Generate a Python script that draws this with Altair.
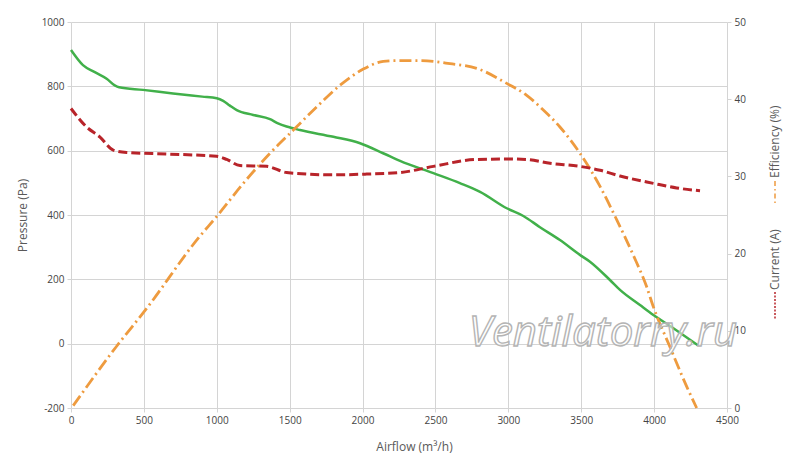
import altair as alt
import pandas as pd

# Pressure curve (Pa)
p_x = [0, 82, 160, 247, 300, 330, 494, 700, 900, 1000, 1044, 1090, 1137, 1250, 1365, 1420, 1479, 1571, 1800, 1983, 2141, 2257, 2486, 2668, 2806, 2989, 3103, 3217, 3354, 3491, 3560, 3697, 3766, 3903, 3995, 4132, 4300]
p_y = [913, 866, 845, 823, 803, 797, 789, 778, 768, 763, 755, 740, 726, 711, 698, 685, 675, 664, 643, 623, 592, 568, 530, 499, 472, 421, 397, 362, 322, 276, 255, 198, 167, 120, 89, 48, -5]

# Efficiency (%)
e_x = [15, 313, 519, 873, 999, 1182, 1365, 1525, 1685, 1845, 2005, 2142, 2234, 2394, 2600, 2783, 2989, 3126, 3240, 3354, 3491, 3629, 3743, 3857, 3949, 3995, 4109, 4223, 4292]
e_y = [0.3, 8.0, 12.9, 22.0, 24.8, 29.1, 33.0, 36.0, 39.0, 41.8, 43.9, 44.9, 45.0, 45.0, 44.6, 44.0, 42.05, 40.5, 38.6, 36.4, 33.0, 28.7, 24.4, 19.8, 15.7, 13.1, 7.9, 2.8, 0.0]

# Current (A)
c_x = [0, 107, 199, 290, 382, 656, 999, 1068, 1159, 1342, 1479, 1800, 2028, 2257, 2486, 2783, 3012, 3126, 3286, 3491, 3629, 3766, 3995, 4155, 4315]
c_y = [38.8, 36.4, 35.1, 33.4, 33.1, 32.9, 32.6, 32.2, 31.4, 31.3, 30.5, 30.2, 30.3, 30.5, 31.3, 32.2, 32.25, 32.2, 31.7, 31.3, 30.8, 30.05, 29.1, 28.5, 28.15]

x_ticks = list(range(0, 4501, 500))
p_ticks = list(range(-200, 1001, 200))
r_ticks = list(range(0, 51, 5))

pdf = pd.DataFrame({"x": p_x, "y": p_y})
edf = pd.DataFrame({"x": e_x, "y": e_y})
cdf = pd.DataFrame({"x": c_x, "y": c_y})

FONT = "Open Sans"
GRID = "#d4d4d4"
LBL = "#444444"
TTL = "#595959"
PLAIN = "'' + datum.value"

xscale = alt.Scale(domain=[0, 4500], nice=False)
xaxis = alt.Axis(values=x_ticks, title="Airflow (m³/h)", grid=True, gridColor=GRID,
                 domain=False, tickColor=GRID, tickSize=4, labelColor=LBL, labelFontSize=10,
                 labelFont=FONT, titleFont=FONT, titleFontSize=12, titleColor=TTL,
                 titleFontWeight="normal", titlePadding=16, titleX=343, labelPadding=3,
                 labelFlush=False, labelExpr=PLAIN)

pressure = alt.Chart(pdf).mark_line(color="#41b04a", strokeWidth=2.5, interpolate="monotone").encode(
    x=alt.X("x:Q", scale=xscale, axis=xaxis),
    y=alt.Y("y:Q", scale=alt.Scale(domain=[-200, 1000], nice=False),
            axis=alt.Axis(values=p_ticks, title="Pressure (Pa)", grid=True, gridColor=GRID,
                          domain=False, tickColor=GRID, tickSize=4, labelColor=LBL,
                          labelFontSize=10, labelFont=FONT, titleFont=FONT, titleFontSize=12,
                          titleColor=TTL, titleFontWeight="normal", titlePadding=12, labelPadding=3,
                          labelFlush=False, labelExpr=PLAIN)),
)

raxis = alt.Axis(values=r_ticks, title=None, grid=False, domain=False, tickColor=GRID,
                 tickSize=4, labelColor=LBL, labelFontSize=10, labelFont=FONT, orient="right",
                 labelPadding=3, labelFlush=False, labelExpr=PLAIN)
rscale = alt.Scale(domain=[0, 50], nice=False)

eff = alt.Chart(edf).mark_line(color="#ee9b3f", strokeWidth=2.8, strokeDash=[12, 4, 2, 4],
                               interpolate="monotone").encode(
    x=alt.X("x:Q", scale=xscale),
    y=alt.Y("y:Q", scale=rscale, axis=raxis),
)
cur = alt.Chart(cdf).mark_line(color="#b8242a", strokeWidth=3, strokeDash=[9, 4],
                               interpolate="monotone").encode(
    x=alt.X("x:Q", scale=xscale),
    y=alt.Y("y:Q", scale=rscale),
)
right = alt.layer(eff, cur)

# Right-side titles with legend symbols
eff_title = alt.Chart(pd.DataFrame({"t": ["Efficiency (%)"]})).mark_text(
    angle=270, align="left", baseline="middle", font=FONT, fontSize=12, color=TTL
).encode(x=alt.value(704), y=alt.value(156), text="t:N")
cur_title = alt.Chart(pd.DataFrame({"t": ["Current (A)"]})).mark_text(
    angle=270, align="left", baseline="middle", font=FONT, fontSize=12, color=TTL
).encode(x=alt.value(704), y=alt.value(268), text="t:N")
eff_sym = alt.Chart(pd.DataFrame({"a": [0]})).mark_rule(
    color="#ee9b3f", strokeWidth=1.5, strokeDash=[5, 3, 1.5, 3]
).encode(x=alt.value(704), y=alt.value(159), y2=alt.value(183))
cur_sym = alt.Chart(pd.DataFrame({"a": [0]})).mark_rule(
    color="#b8242a", strokeWidth=1.5, strokeDash=[2, 1.5]
).encode(x=alt.value(704), y=alt.value(270), y2=alt.value(298))

watermark = alt.Chart(pd.DataFrame({"t": ["Ventilatorry.ru"]})).mark_text(
    font=FONT, fontSize=42, fontStyle="italic", fill="white", fillOpacity=0.55,
    stroke="#b4b4b4", strokeWidth=1.4, align="center", baseline="middle"
).encode(x=alt.value(532), y=alt.value(311), text="t:N")

chart = alt.layer(pressure, right, watermark, eff_title, cur_title, eff_sym, cur_sym).resolve_scale(
    y="independent"
).properties(
    width=656, height=386,
    padding={"left": 63, "top": 14, "right": 60, "bottom": 54},
    autosize=alt.AutoSizeParams(type="none"),
    background="white",
).configure_view(stroke=None)

chart.save("out.html", embed_options={"renderer": "svg", "actions": False})
